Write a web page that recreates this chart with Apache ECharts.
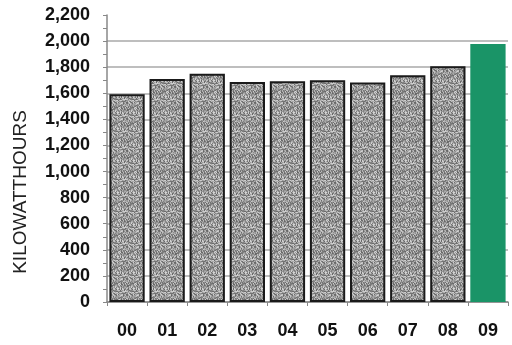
<!DOCTYPE html>
<html><head><meta charset="utf-8">
<script src="https://cdn.jsdelivr.net/npm/echarts@6/dist/echarts.min.js"></script>
<style>html,body{margin:0;padding:0;background:#fff}#c{width:512px;height:345px}</style>
</head><body><div id="c"></div>
<script>
var categories = ['00','01','02','03','04','05','06','07','08','09'];
var values = [1592, 1710, 1750, 1686, 1693, 1700, 1683, 1738, 1808, 1977];
var yTicks = [0,200,400,600,800,1000,1200,1400,1600,1800,2000,2200];
var axisName = 'KILOWATTHOURS';

// deterministic speckle texture (style only)
function makeTexture(){
  var s = 16, cv = document.createElement('canvas');
  cv.width = s; cv.height = s;
  var ctx = cv.getContext('2d');
  var img = ctx.createImageData(s, s);
  for (var y = 0; y < s; y++) for (var x = 0; x < s; x++) {
    var h = ((x * 374761393 + y * 668265263) ^ (x * y * 2246822519)) >>> 0;
    h = (h ^ (h >>> 13)) * 1274126177 >>> 0;
    var v = 100 + ((h >>> 8) % 115);
    var k = (y * s + x) * 4;
    img.data[k] = v; img.data[k+1] = v; img.data[k+2] = v; img.data[k+3] = 255;
  }
  ctx.putImageData(img, 0, 0);
  return cv;
}
var tex = makeTexture();

var gridColors = yTicks.map(function(t){ return t === 2200 ? 'rgba(0,0,0,0)' : '#a8a8a8'; });

var chart = echarts.init(document.getElementById('c'), null, {renderer:'canvas'});
chart.setOption({
  animation: false,
  grid: {left: 107, right: 4, top: 15, bottom: 43},
  xAxis: {
    type: 'category', data: categories,
    axisLine: {lineStyle: {color: '#888', width: 1.5}},
    axisTick: {show: true, length: 4, lineStyle: {color: '#888'}},
    axisLabel: {margin: 20, fontSize: 18, fontWeight: 'bold', color: '#111', fontFamily: 'Liberation Sans, Arial, sans-serif'}
  },
  yAxis: {
    type: 'value', min: 0, max: 2200, interval: 200,
    axisLine: {show: true, lineStyle: {color: '#888', width: 1.5}},
    axisTick: {show: true, inside: false, length: 4, lineStyle: {color: '#888'}},
    minorTick: {show: true, splitNumber: 2, length: 4, lineStyle: {color: '#888'}},
    splitLine: {show: true, lineStyle: {color: gridColors, width: 1.5}},
    axisLabel: {margin: 17, fontSize: 18, fontWeight: 'bold', color: '#111', fontFamily: 'Liberation Sans, Arial, sans-serif',
      formatter: function(v){ return v.toLocaleString('en-US'); }}
  },
  graphic: [{
    type: 'text', x: 21, y: 192, rotation: Math.PI/2,
    style: {text: axisName, fontSize: 19, fill: '#222', align: 'center', verticalAlign: 'middle',
      fontFamily: 'Liberation Sans, Arial, sans-serif'}
  }],
  series: [{
    type: 'bar', barCategoryGap: '12%',
    data: values.map(function(v, i){
      if (i === values.length - 1) return {value: v, itemStyle: {color: '#1a9467', borderWidth: 0}};
      return {value: v};
    }),
    itemStyle: {color: {image: tex, repeat: 'repeat'}, borderColor: '#1a1a1a', borderWidth: 2}
  }]
});
</script></body></html>
